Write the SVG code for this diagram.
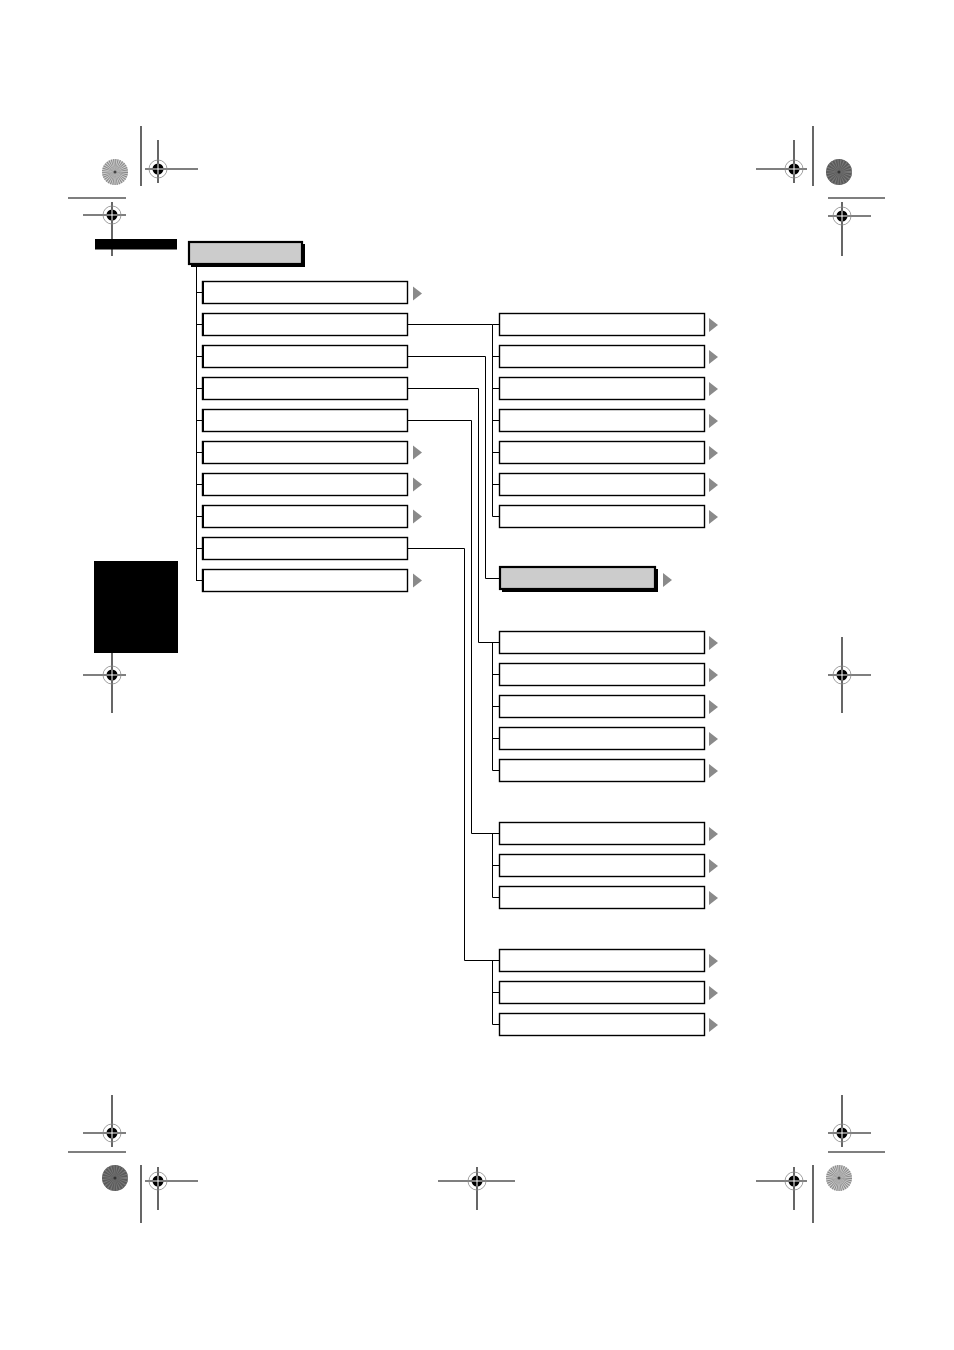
<svg xmlns="http://www.w3.org/2000/svg" width="954" height="1350" viewBox="0 0 954 1350">
<defs>
<style>
.box{fill:#fff;stroke:#000;stroke-width:1.4}
.edge{stroke:#000;stroke-width:2}
.gbox{fill:#ccc;stroke:#000;stroke-width:2.2}
.sh{fill:#000}
.arr{fill:#8a8a8a}
.ln{fill:none;stroke:#000;stroke-width:1}
.reg{stroke:#000;stroke-width:1.2;fill:none}
.regc{fill:none;stroke:#888;stroke-width:0.8}
.wx{stroke:#fff;stroke-width:1}
</style>
<g id="regmark">
<circle class="regc" cx="0" cy="0" r="9"/>
<circle cx="0" cy="0" r="5.5" fill="#000"/>
<line class="wx" x1="-5.5" y1="0" x2="5.5" y2="0"/>
<line class="wx" x1="0" y1="-5.5" x2="0" y2="5.5"/>
</g>
<g id="burstLight">
<circle r="13" fill="#d0d0d0"/>
<circle r="6.5" fill="none" stroke="#888" stroke-width="13" stroke-dasharray="0.6 0.6"/>
<circle r="1.5" fill="#444"/>
</g>
<g id="burstDark">
<circle r="13" fill="#5a5a5a"/>
<circle r="6.5" fill="none" stroke="#7a7a7a" stroke-width="13" stroke-dasharray="0.7 1"/>
<circle r="1.5" fill="#333"/>
</g>
<polygon id="tri" points="0,-7 9,0 0,7"/>
</defs>
<rect width="954" height="1350" fill="#fff"/>

<!-- printer marks -->
<g id="marks">
<line class="reg" x1="141" y1="126" x2="141" y2="186"/>
<line class="reg" x1="68" y1="198" x2="126" y2="198"/>
<line class="reg" x1="145" y1="169" x2="198" y2="169"/>
<line class="reg" x1="158" y1="140" x2="158" y2="183"/>
<use href="#regmark" x="158" y="169"/>
<line class="reg" x1="83" y1="215" x2="126" y2="215"/>
<line class="reg" x1="112" y1="202" x2="112" y2="256"/>
<use href="#regmark" x="112" y="215"/>
<use href="#burstLight" x="115" y="172"/>

<line class="reg" x1="813" y1="126" x2="813" y2="186"/>
<line class="reg" x1="828" y1="198" x2="885" y2="198"/>
<line class="reg" x1="756" y1="169" x2="807" y2="169"/>
<line class="reg" x1="794" y1="140" x2="794" y2="183"/>
<use href="#regmark" x="794" y="169"/>
<line class="reg" x1="828" y1="216" x2="871" y2="216"/>
<line class="reg" x1="842" y1="202" x2="842" y2="256"/>
<use href="#regmark" x="842" y="216"/>
<use href="#burstDark" x="839" y="172"/>

<line class="reg" x1="83" y1="675" x2="126" y2="675"/>
<line class="reg" x1="112" y1="640" x2="112" y2="713"/>
<use href="#regmark" x="112" y="675"/>
<line class="reg" x1="828" y1="675" x2="871" y2="675"/>
<line class="reg" x1="842" y1="637" x2="842" y2="713"/>
<use href="#regmark" x="842" y="675"/>

<line class="reg" x1="112" y1="1095" x2="112" y2="1147"/>
<line class="reg" x1="83" y1="1133" x2="126" y2="1133"/>
<use href="#regmark" x="112" y="1133"/>
<line class="reg" x1="68" y1="1152" x2="126" y2="1152"/>
<use href="#burstDark" x="115" y="1178"/>
<line class="reg" x1="141" y1="1165" x2="141" y2="1223"/>
<line class="reg" x1="145" y1="1181" x2="198" y2="1181"/>
<line class="reg" x1="158" y1="1167" x2="158" y2="1210"/>
<use href="#regmark" x="158" y="1181"/>

<line class="reg" x1="438" y1="1181" x2="515" y2="1181"/>
<line class="reg" x1="477" y1="1167" x2="477" y2="1210"/>
<use href="#regmark" x="477" y="1181"/>

<line class="reg" x1="842" y1="1095" x2="842" y2="1147"/>
<line class="reg" x1="828" y1="1133" x2="871" y2="1133"/>
<use href="#regmark" x="842" y="1133"/>
<line class="reg" x1="828" y1="1152" x2="885" y2="1152"/>
<use href="#burstLight" x="839" y="1178"/>
<line class="reg" x1="813" y1="1165" x2="813" y2="1223"/>
<line class="reg" x1="756" y1="1181" x2="807" y2="1181"/>
<line class="reg" x1="794" y1="1167" x2="794" y2="1210"/>
<use href="#regmark" x="794" y="1181"/>
</g>

<!-- black tabs -->
<rect id="tab-top" x="95" y="239" width="82" height="10.5" fill="#000"/>
<rect id="tab-side" x="94" y="561" width="84" height="92" fill="#000"/>

<!-- connectors -->
<g id="connectors" class="ln">
<path d="M196.5,265 V580.5"/>
<path d="M196,292.5 H202 M196,324.5 H202 M196,356.5 H202 M196,388.5 H202 M196,420.5 H202 M196,452.5 H202 M196,484.5 H202 M196,516.5 H202 M196,548.5 H202 M196,580.5 H202"/>
<path d="M408,324.5 H492.5 V516.5"/>
<path d="M492.5,324.5 H499 M492.5,356.5 H499 M492.5,388.5 H499 M492.5,420.5 H499 M492.5,452.5 H499 M492.5,484.5 H499 M492.5,516.5 H499"/>
<path d="M408,356.5 H485.5 V578.5 H499"/>
<path d="M408,388.5 H478.5 V642.5 H499"/>
<path d="M492.5,642.5 V770.5 M492.5,674.5 H499 M492.5,706.5 H499 M492.5,738.5 H499 M492.5,770.5 H499"/>
<path d="M408,420.5 H471.5 V833.5 H499"/>
<path d="M492.5,833.5 V897.5 M492.5,865.5 H499 M492.5,897.5 H499"/>
<path d="M408,548.5 H464.5 V960.5 H499"/>
<path d="M492.5,960.5 V1024.5 M492.5,992.5 H499 M492.5,1024.5 H499"/>
</g>

<!-- root node -->
<g id="root">
<rect class="sh" x="191" y="244" width="114" height="23"/>
<rect class="gbox" x="189" y="242" width="113" height="22"/>
</g>

<!-- left column -->
<g id="L1"><rect class="box" x="202.5" y="281.5" width="205" height="22"/><line class="edge" x1="203" y1="281" x2="203" y2="304"/><use href="#tri" class="arr" x="413" y="293.5"/></g>
<g id="L2"><rect class="box" x="202.5" y="313.5" width="205" height="22"/><line class="edge" x1="203" y1="313" x2="203" y2="336"/></g>
<g id="L3"><rect class="box" x="202.5" y="345.5" width="205" height="22"/><line class="edge" x1="203" y1="345" x2="203" y2="368"/></g>
<g id="L4"><rect class="box" x="202.5" y="377.5" width="205" height="22"/><line class="edge" x1="203" y1="377" x2="203" y2="400"/></g>
<g id="L5"><rect class="box" x="202.5" y="409.5" width="205" height="22"/><line class="edge" x1="203" y1="409" x2="203" y2="432"/></g>
<g id="L6"><rect class="box" x="202.5" y="441.5" width="205" height="22"/><line class="edge" x1="203" y1="441" x2="203" y2="464"/><use href="#tri" class="arr" x="413" y="452.5"/></g>
<g id="L7"><rect class="box" x="202.5" y="473.5" width="205" height="22"/><line class="edge" x1="203" y1="473" x2="203" y2="496"/><use href="#tri" class="arr" x="413" y="484.5"/></g>
<g id="L8"><rect class="box" x="202.5" y="505.5" width="205" height="22"/><line class="edge" x1="203" y1="505" x2="203" y2="528"/><use href="#tri" class="arr" x="413" y="516.5"/></g>
<g id="L9"><rect class="box" x="202.5" y="537.5" width="205" height="22"/><line class="edge" x1="203" y1="537" x2="203" y2="560"/></g>
<g id="L10"><rect class="box" x="202.5" y="569.5" width="205" height="22"/><line class="edge" x1="203" y1="569" x2="203" y2="592"/><use href="#tri" class="arr" x="413" y="580.5"/></g>

<!-- right group A -->
<g id="A1"><rect class="box" x="499.5" y="313.5" width="205" height="22"/><use href="#tri" class="arr" x="709" y="325"/></g>
<g id="A2"><rect class="box" x="499.5" y="345.5" width="205" height="22"/><use href="#tri" class="arr" x="709" y="357"/></g>
<g id="A3"><rect class="box" x="499.5" y="377.5" width="205" height="22"/><use href="#tri" class="arr" x="709" y="389"/></g>
<g id="A4"><rect class="box" x="499.5" y="409.5" width="205" height="22"/><use href="#tri" class="arr" x="709" y="421"/></g>
<g id="A5"><rect class="box" x="499.5" y="441.5" width="205" height="22"/><use href="#tri" class="arr" x="709" y="453"/></g>
<g id="A6"><rect class="box" x="499.5" y="473.5" width="205" height="22"/><use href="#tri" class="arr" x="709" y="485"/></g>
<g id="A7"><rect class="box" x="499.5" y="505.5" width="205" height="22"/><use href="#tri" class="arr" x="709" y="517"/></g>

<!-- highlighted node -->
<g id="G1">
<rect class="sh" x="502" y="569" width="156" height="23"/>
<rect class="gbox" x="500" y="567" width="155" height="22"/>
<use href="#tri" class="arr" x="663" y="580"/>
</g>

<!-- right group B -->
<g id="B1"><rect class="box" x="499.5" y="631.5" width="205" height="22"/><use href="#tri" class="arr" x="709" y="643"/></g>
<g id="B2"><rect class="box" x="499.5" y="663.5" width="205" height="22"/><use href="#tri" class="arr" x="709" y="675"/></g>
<g id="B3"><rect class="box" x="499.5" y="695.5" width="205" height="22"/><use href="#tri" class="arr" x="709" y="707"/></g>
<g id="B4"><rect class="box" x="499.5" y="727.5" width="205" height="22"/><use href="#tri" class="arr" x="709" y="739"/></g>
<g id="B5"><rect class="box" x="499.5" y="759.5" width="205" height="22"/><use href="#tri" class="arr" x="709" y="771"/></g>

<!-- right group C -->
<g id="C1"><rect class="box" x="499.5" y="822.5" width="205" height="22"/><use href="#tri" class="arr" x="709" y="834"/></g>
<g id="C2"><rect class="box" x="499.5" y="854.5" width="205" height="22"/><use href="#tri" class="arr" x="709" y="866"/></g>
<g id="C3"><rect class="box" x="499.5" y="886.5" width="205" height="22"/><use href="#tri" class="arr" x="709" y="898"/></g>

<!-- right group D -->
<g id="D1"><rect class="box" x="499.5" y="949.5" width="205" height="22"/><use href="#tri" class="arr" x="709" y="961"/></g>
<g id="D2"><rect class="box" x="499.5" y="981.5" width="205" height="22"/><use href="#tri" class="arr" x="709" y="993"/></g>
<g id="D3"><rect class="box" x="499.5" y="1013.5" width="205" height="22"/><use href="#tri" class="arr" x="709" y="1025"/></g>
</svg>
